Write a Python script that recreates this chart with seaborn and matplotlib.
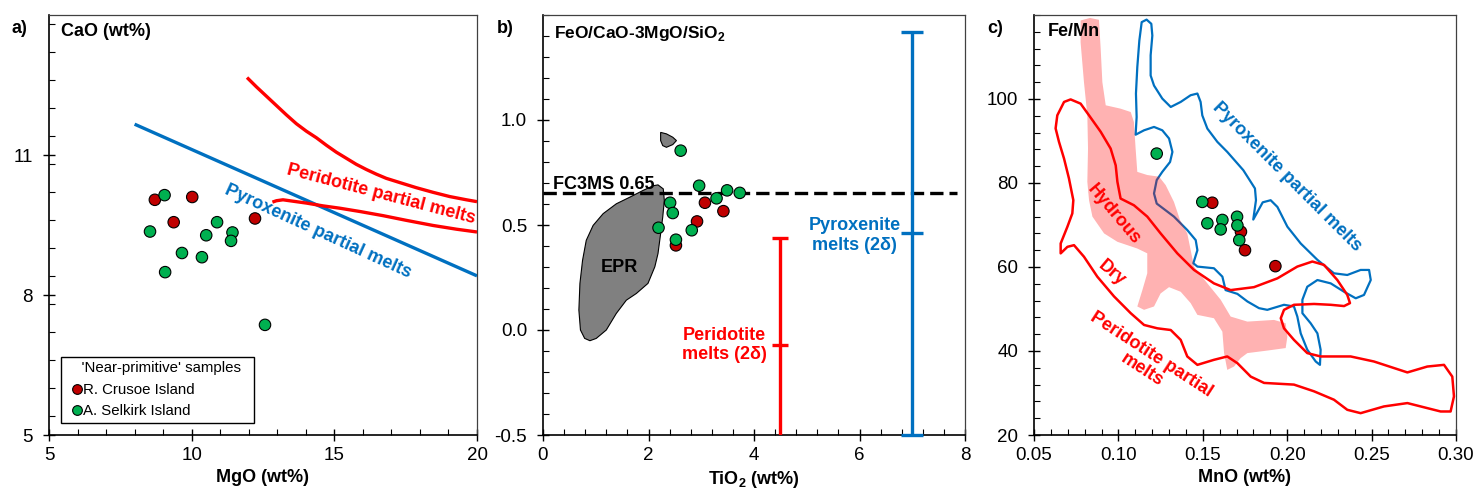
import matplotlib
matplotlib.use("Agg")
import matplotlib.pyplot as plt
import numpy as np
import pandas as pd
import seaborn as sns
from matplotlib.ticker import MultipleLocator, FixedLocator, FormatStrFormatter
from matplotlib.lines import Line2D

# ------------------------------------------------------------------ data
islands = ["R. Crusoe Island", "A. Selkirk Island"]
island_colors = ["#C00000", "#00B050"]

# panel a : CaO vs MgO
crusoe_mgo = [8.71, 10.02, 9.37, 12.22]
crusoe_cao = [10.04, 10.10, 9.56, 9.64]
selkirk_mgo = [9.05, 8.54, 10.89, 10.51, 11.43, 11.38, 9.66, 10.36, 9.07, 12.57]
selkirk_cao = [10.14, 9.36, 9.56, 9.28, 9.34, 9.16, 8.90, 8.81, 8.49, 7.36]

pyx_mgo = [8.0, 20.0]
pyx_cao = [11.66, 8.41]
per_up_mgo = [11.94, 12.27, 12.62, 12.97, 13.32, 13.67, 14.02, 14.37, 14.72, 15.07,
              15.42, 15.77, 16.12, 16.47, 16.82, 17.29, 17.87, 18.46, 19.04, 19.63, 20.0]
per_up_cao = [12.66, 12.46, 12.26, 12.06, 11.86, 11.67, 11.51, 11.37, 11.21, 11.06,
              10.93, 10.80, 10.69, 10.59, 10.50, 10.41, 10.30, 10.20, 10.11, 10.04, 10.00]
per_lo_mgo = [12.83, 12.97, 13.2, 13.55, 14.02, 14.6, 15.19, 15.89, 16.71, 17.52,
              18.46, 19.28, 20.0]
per_lo_cao = [9.99, 10.02, 10.04, 10.01, 9.97, 9.91, 9.86, 9.79, 9.70, 9.60,
              9.49, 9.41, 9.35]

# panel b : FC3MS vs TiO2
crusoe_tio2 = [3.07, 3.42, 2.92, 2.52]
crusoe_fc3ms = [0.606, 0.566, 0.517, 0.403]
selkirk_tio2 = [2.61, 2.96, 3.49, 3.73, 3.29, 2.41, 2.46, 2.19, 2.82, 2.52]
selkirk_fc3ms = [0.854, 0.687, 0.665, 0.653, 0.627, 0.606, 0.557, 0.487, 0.475, 0.430]
fc3ms_threshold = 0.65

epr_tio2 = [2.18, 2.28, 2.30, 2.27, 2.23, 2.18, 2.12, 1.99, 1.77, 1.58, 1.39, 1.20,
            1.01, 0.89, 0.79, 0.71, 0.68, 0.70, 0.75, 0.82, 0.95, 1.14, 1.39, 1.65,
            1.90, 2.09]
epr_fc3ms = [0.691, 0.672, 0.617, 0.538, 0.459, 0.364, 0.301, 0.222, 0.174, 0.142,
             0.079, 0.000, -0.040, -0.051, -0.040, 0.000, 0.095, 0.222, 0.332, 0.427,
             0.498, 0.554, 0.601, 0.633, 0.665, 0.687]
epr2_tio2 = [2.23, 2.34, 2.46, 2.53, 2.46, 2.34, 2.27, 2.23]
epr2_fc3ms = [0.941, 0.934, 0.918, 0.902, 0.883, 0.870, 0.878, 0.902]

bar_labels = ["Peridotite\nmelts (2\u03b4)", "Pyroxenite\nmelts (2\u03b4)"]
bar_tio2 = [4.5, 7.0]
bar_mean = [-0.07, 0.46]
bar_err = [0.51, 0.96]

# panel c : Fe/Mn vs MnO
crusoe_mno = [0.1556, 0.1726, 0.1750, 0.1930]
crusoe_femn = [75.3, 68.4, 64.0, 60.2]
selkirk_mno = [0.1227, 0.1497, 0.1527, 0.1616, 0.1606, 0.1703, 0.1705, 0.1716]
selkirk_femn = [87.0, 75.5, 70.4, 71.2, 68.95, 71.96, 69.9, 66.4]

pyx_field_mno = [0.1167, 0.1195, 0.1201, 0.1191, 0.1191, 0.1211, 0.1260, 0.1310, 0.1369,
                 0.1428, 0.1468, 0.1487, 0.1497, 0.1527, 0.1586, 0.1645, 0.1740, 0.1809,
                 0.1815, 0.1799, 0.1819, 0.1855, 0.1902, 0.1942, 0.2001, 0.2080, 0.2179,
                 0.2277, 0.2356, 0.2435, 0.2485, 0.2495, 0.2455, 0.2406, 0.2337, 0.2258,
                 0.2179, 0.2119, 0.2090, 0.2090, 0.2139, 0.2179, 0.2198, 0.2194, 0.2169,
                 0.2119, 0.2080, 0.2060, 0.2040, 0.1981, 0.1882, 0.1833, 0.1764, 0.1705,
                 0.1635, 0.1616, 0.1566, 0.1468, 0.1444, 0.1468, 0.1458, 0.1408, 0.1329,
                 0.1227, 0.1211, 0.1227, 0.1260, 0.1306, 0.1320, 0.1300, 0.1260, 0.1211,
                 0.1152, 0.1102, 0.1108, 0.1104, 0.1112, 0.1124, 0.1138]
pyx_field_femn = [118.9, 117.9, 115.1, 110.4, 105.6, 103.2, 100.1, 98.1, 99.3,
                  100.9, 101.3, 99.3, 96.1, 92.95, 89.8, 87.4, 83.05, 78.7,
                  75.9, 71.3, 72.75, 75.4, 75.9, 74.3, 69.6, 65.6, 61.7,
                  58.5, 58.1, 59.3, 59.3, 56.9, 53.35, 52.55, 54.1, 56.1,
                  56.9, 55.3, 52.2, 49.0, 46.6, 44.2, 40.3, 36.7, 37.5,
                  40.3, 44.2, 48.2, 50.6, 51.0, 49.8, 50.2, 51.8, 53.6,
                  54.5, 57.7, 59.7, 60.1, 60.9, 64.0, 66.4, 68.8, 72.0,
                  75.1, 77.5, 80.7, 82.65, 85.0, 87.4, 90.6, 92.55, 93.35,
                  92.55, 91.5, 95.7, 101.3, 107.6, 113.9, 118.3]

per_field_mno = [0.0717, 0.0776, 0.0826, 0.0895, 0.0954, 0.0984, 0.0994, 0.1013, 0.1092,
                 0.1171, 0.1250, 0.1349, 0.1448, 0.1566, 0.1665, 0.1803, 0.1942, 0.2060,
                 0.2149, 0.2218, 0.2297, 0.2356, 0.2372, 0.2337, 0.2258, 0.2159, 0.2040,
                 0.1981, 0.1962, 0.1981, 0.2040, 0.2119, 0.2198, 0.2376, 0.2514, 0.2712,
                 0.2830, 0.2929, 0.2978, 0.2988, 0.2968, 0.2909, 0.2830, 0.2712, 0.2573,
                 0.2435, 0.2356, 0.2277, 0.2159, 0.2040, 0.1863, 0.1784, 0.1705, 0.1645,
                 0.1566, 0.1468, 0.1408, 0.1369, 0.1310, 0.1231, 0.1152, 0.1073, 0.0974,
                 0.0875, 0.0796, 0.0737, 0.0698, 0.0658, 0.0658, 0.0698, 0.0727, 0.0733,
                 0.0707, 0.0678, 0.0648, 0.0628, 0.0638, 0.0678]
per_field_femn = [99.9, 98.9, 96.1, 92.2, 88.2, 84.2, 80.3, 76.3, 74.7,
                  72.0, 68.0, 63.25, 59.3, 56.1, 54.5, 55.2, 57.3, 60.1,
                  61.3, 60.5, 56.9, 53.35, 51.4, 50.7, 51.0, 51.2, 51.0,
                  49.8, 47.8, 45.4, 42.65, 39.5, 38.7, 38.7, 37.5, 34.9,
                  36.3, 36.7, 33.9, 29.2, 25.6, 25.6, 26.4, 27.6, 26.8,
                  25.2, 26.0, 28.4, 30.4, 32.0, 32.4, 33.9, 37.1, 38.7,
                  37.9, 36.7, 38.7, 42.65, 45.0, 45.4, 46.2, 49.0, 53.0,
                  57.7, 62.45, 65.2, 64.8, 63.25, 65.6, 69.6, 72.75, 75.9,
                  81.1, 85.8, 89.8, 93.0, 96.1, 99.3]

hyd_field_mno = [0.0776, 0.0832, 0.0885, 0.0895, 0.0905, 0.0925, 0.1013, 0.1073, 0.1092,
                 0.1102, 0.1112, 0.1171, 0.1241, 0.1280, 0.1329, 0.1365, 0.1408, 0.1448,
                 0.1527, 0.1606, 0.1665, 0.1764, 0.1922, 0.1991, 0.2001, 0.1991, 0.1882,
                 0.1764, 0.1724, 0.1685, 0.1645, 0.1626, 0.1616, 0.1566, 0.1468, 0.1428,
                 0.1369, 0.1300, 0.1250, 0.1211, 0.1152, 0.1112, 0.1142, 0.1171, 0.1171,
                 0.1112, 0.0994, 0.0915, 0.0846, 0.0826, 0.0816, 0.0820, 0.0816, 0.0796,
                 0.0776]
hyd_field_femn = [118.7, 119.3, 118.85, 112.0, 104.0, 98.5, 97.7, 96.9, 94.5,
                  88.2, 82.65, 81.9, 81.5, 79.5, 75.5, 71.2, 68.0, 60.1,
                  56.1, 52.2, 48.2, 47.0, 47.4, 46.6, 43.4, 40.7, 40.1,
                  39.5, 38.3, 36.3, 35.5, 39.5, 44.6, 47.8, 48.6, 51.4,
                  54.1, 55.2, 53.7, 50.6, 49.8, 50.6, 54.5, 58.5, 63.25,
                  64.4, 66.0, 68.0, 72.0, 75.9, 80.3, 88.2, 96.1, 104.0,
                  113.5]

# ------------------------------------------------------------------ style
sns.set_theme(style="ticks")
plt.rcParams["font.family"] = ["Liberation Sans", "DejaVu Sans"]
plt.rcParams["mathtext.fontset"] = "custom"
plt.rcParams["mathtext.rm"] = "Liberation Sans"
plt.rcParams["mathtext.bf"] = "Liberation Sans:bold"
plt.rcParams["text.color"] = "black"
plt.rcParams["axes.labelcolor"] = "black"
plt.rcParams["xtick.color"] = "black"
plt.rcParams["ytick.color"] = "black"
plt.rcParams["lines.solid_capstyle"] = "butt"

RED = "#FF0000"
BLUE = "#0070C0"
FS = 13

fig = plt.figure(figsize=(14.76, 4.93), dpi=100)
W, H = 1476.0, 493.0
ax_a = fig.add_axes([49 / W, 58 / H, 428 / W, 420 / H])
ax_b = fig.add_axes([543 / W, 58 / H, 422 / W, 420 / H])
ax_c = fig.add_axes([1034 / W, 58 / H, 422 / W, 420 / H])


def style_axes(ax):
    for s in ["left", "bottom"]:
        ax.spines[s].set_color("black")
        ax.spines[s].set_linewidth(1.2)
    for s in ["top", "right"]:
        ax.spines[s].set_color("#404040")
        ax.spines[s].set_linewidth(0.9)
    ax.tick_params(which="major", direction="inout", length=9, width=1.0,
                   labelsize=13.5, colors="black", labelcolor="black",
                   top=False, right=False)
    ax.tick_params(which="minor", direction="in", length=4, width=0.8,
                   top=False, right=False)
    ax.tick_params(axis="x", which="major", pad=4)
    ax.tick_params(axis="y", which="major", pad=7)
    ax.set_facecolor("white")


def scatter_points(ax, cx, cy, sx, sy):
    df = pd.DataFrame({
        "x": list(cx) + list(sx),
        "y": list(cy) + list(sy),
        "island": [islands[0]] * len(cx) + [islands[1]] * len(sx),
    })
    sns.scatterplot(data=df, x="x", y="y", hue="island", hue_order=islands,
                    palette=dict(zip(islands, island_colors)), s=68,
                    edgecolor="black", linewidth=0.8, legend=False, ax=ax,
                    zorder=6, clip_on=False)


# ------------------------------------------------------------------ panel a
ax = ax_a
style_axes(ax)
sns.lineplot(x=pyx_mgo, y=pyx_cao, color=BLUE, lw=2.4, sort=False, ax=ax, zorder=3)
sns.lineplot(x=per_up_mgo, y=per_up_cao, color=RED, lw=2.4, sort=False, ax=ax, zorder=3)
sns.lineplot(x=per_lo_mgo, y=per_lo_cao, color=RED, lw=2.4, sort=False, ax=ax, zorder=3)
scatter_points(ax, crusoe_mgo, crusoe_cao, selkirk_mgo, selkirk_cao)
ax.text(16.64, 10.15, "Peridotite partial melts", color=RED, fontsize=FS,
        fontweight="bold", rotation=-14.7, ha="center", va="center",
        rotation_mode="anchor")
ax.text(14.44, 9.36, "Pyroxenite partial melts", color=BLUE, fontsize=FS,
        fontweight="bold", rotation=-24.6, ha="center", va="center",
        rotation_mode="anchor")
ax.set_xlim(5, 20)
ax.set_ylim(5, 14)
ax.xaxis.set_major_locator(FixedLocator([5, 10, 15, 20]))
ax.xaxis.set_minor_locator(MultipleLocator(1))
ax.yaxis.set_major_locator(FixedLocator([5, 8, 11]))
ax.yaxis.set_minor_locator(MultipleLocator(0.6))
ax.set_xlabel("MgO (wt%)", fontsize=FS, fontweight="bold", labelpad=4)
ax.set_ylabel("")
ax.text(0.028, 0.96, "CaO (wt%)", transform=ax.transAxes, fontsize=FS,
        fontweight="bold", ha="left", va="center")
handles = [Line2D([], [], marker="o", ls="", markerfacecolor=c,
                  markeredgecolor="black", markeredgewidth=0.8, markersize=7)
           for c in island_colors]
leg = ax.legend(handles, islands, title="    'Near-primitive' samples  ",
                loc="lower left", bbox_to_anchor=(0.028, 0.0286),
                borderaxespad=0, frameon=True, fancybox=False,
                edgecolor="black", framealpha=1, fontsize=10.8,
                title_fontsize=10.8, handlelength=1.5, handletextpad=-0.35,
                borderpad=0.3, labelspacing=0.5, alignment="left")
leg.get_frame().set_linewidth(1.0)
leg.set_zorder(10)

# ------------------------------------------------------------------ panel b
ax = ax_b
style_axes(ax)
ax.fill(epr_tio2, epr_fc3ms, facecolor="#808080", edgecolor="black", lw=0.8, zorder=2)
ax.fill(epr2_tio2, epr2_fc3ms, facecolor="#808080", edgecolor="black", lw=0.8, zorder=2)
ax.axhline(fc3ms_threshold, xmin=0, xmax=0.982, color="black", lw=2.4,
           ls=(0, (4.0, 1.8)), zorder=3)
bar_colors = [RED, BLUE]
bar_caps = [5.7, 7.6]
for i in range(2):
    eb = ax.errorbar(bar_tio2[i], bar_mean[i], yerr=bar_err[i], fmt="_",
                     color=bar_colors[i], ecolor=bar_colors[i], elinewidth=2.4,
                     capsize=bar_caps[i], capthick=2.4, markersize=2 * bar_caps[i],
                     markeredgewidth=2.4, zorder=4)
    if i == 1:
        for art in [eb[0]] + list(eb[1]) + list(eb[2]):
            art.set_clip_on(False)
scatter_points(ax, crusoe_tio2, crusoe_fc3ms, selkirk_tio2, selkirk_fc3ms)
ax.text(0.19, 0.672, "FC3MS 0.65", fontsize=FS, fontweight="bold",
        ha="left", va="baseline", zorder=5)
ax.text(1.44, 0.30, "EPR", fontsize=FS, fontweight="bold", ha="center",
        va="center", zorder=5)
ax.text(3.44, -0.071, bar_labels[0], color=RED, fontsize=FS, fontweight="bold",
        ha="center", va="center", multialignment="center", linespacing=1.2)
ax.text(5.91, 0.451, bar_labels[1], color=BLUE, fontsize=FS, fontweight="bold",
        ha="center", va="center", multialignment="center", linespacing=1.2)
ax.set_xlim(0, 8)
ax.set_ylim(-0.5, 1.5)
ax.xaxis.set_major_locator(FixedLocator([0, 2, 4, 6, 8]))
ax.xaxis.set_minor_locator(MultipleLocator(0.4))
ax.yaxis.set_major_locator(FixedLocator([-0.5, 0.0, 0.5, 1.0]))
ax.yaxis.set_major_formatter(FormatStrFormatter("%.1f"))
ax.yaxis.set_minor_locator(MultipleLocator(0.1))
ax.set_xlabel(r"TiO$_\mathbf{2}$ (wt%)", fontsize=FS, fontweight="bold", labelpad=4)
ax.set_ylabel("")
ax.text(0.026, 0.957, r"FeO/CaO-3MgO/SiO$_\mathbf{2}$", transform=ax.transAxes,
        fontsize=FS - 0.5, fontweight="bold", ha="left", va="center")

# ------------------------------------------------------------------ panel c
ax = ax_c
style_axes(ax)
ax.fill(pyx_field_mno, pyx_field_femn, facecolor="none", edgecolor=BLUE, lw=1.6,
        zorder=2, joinstyle="round")
ax.fill(hyd_field_mno, hyd_field_femn, facecolor=RED, alpha=0.3, edgecolor="none",
        zorder=3)
ax.fill(per_field_mno, per_field_femn, facecolor="none", edgecolor=RED, lw=1.8,
        zorder=4, joinstyle="round")
scatter_points(ax, crusoe_mno, crusoe_femn, selkirk_mno, selkirk_femn)
ax.text(0.1997, 81.5, "Pyroxenite partial melts", color=BLUE, fontsize=FS,
        fontweight="bold", rotation=-45, ha="center", va="center",
        rotation_mode="anchor")
ax.text(0.097, 72.4, "Hydrous", color=RED, fontsize=FS, fontweight="bold",
        rotation=-50, ha="center", va="center", rotation_mode="anchor")
ax.text(0.096, 58.65, "Dry", color=RED, fontsize=FS, fontweight="bold",
        rotation=-40, ha="center", va="center", rotation_mode="anchor")
ax.text(0.1167, 37.3, "Peridotite partial\nmelts", color=RED, fontsize=FS,
        fontweight="bold", rotation=-33, ha="center", va="center",
        rotation_mode="anchor", multialignment="center", linespacing=1.1)
ax.set_xlim(0.05, 0.30)
ax.set_ylim(20, 120)
ax.xaxis.set_major_locator(FixedLocator([0.05, 0.10, 0.15, 0.20, 0.25, 0.30]))
ax.xaxis.set_major_formatter(FormatStrFormatter("%.2f"))
ax.xaxis.set_minor_locator(MultipleLocator(0.01))
ax.yaxis.set_major_locator(FixedLocator([20, 40, 60, 80, 100]))
ax.yaxis.set_minor_locator(MultipleLocator(4))
ax.set_xlabel("MnO (wt%)", fontsize=FS, fontweight="bold", labelpad=4)
ax.set_ylabel("")
ax.text(0.033, 0.96, "Fe/Mn", transform=ax.transAxes, fontsize=FS,
        fontweight="bold", ha="left", va="center")

# panel letters
for lab, xp in [("a)", 11), ("b)", 497), ("c)", 987)]:
    fig.text(xp / W, 1 - 33 / H, lab, fontsize=13, fontweight="bold",
             ha="left", va="baseline")

fig.savefig("out.png", dpi=100, facecolor="white")
